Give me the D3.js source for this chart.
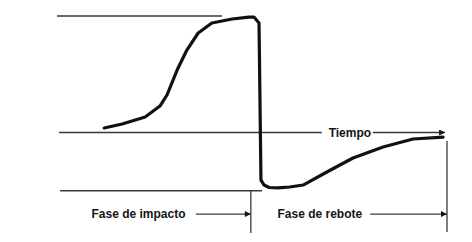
<!DOCTYPE html>
<html>
<head>
<meta charset="utf-8">
<script src="https://cdn.jsdelivr.net/npm/d3@7"></script>
<style>
  html, body { margin: 0; padding: 0; background: #fff; }
  svg { display: block; }
  text { font-family: "Liberation Sans", Arial, sans-serif; font-weight: bold; fill: #151515; }
</style>
</head>
<body>
<svg id="chart" width="472" height="242"></svg>
<script>
// Time (arbitrary units, 0–100) and force (% of peak)
const time = [12.1, 16.7, 22.6, 26.4, 28.2, 30.8, 33.3, 36.2, 39.7, 44.9, 49.2, 50.5, 51.8,
              52.3, 53.1, 54.4, 56.7, 59.7, 63.1, 69.2, 75.9, 83.6, 91.3, 99.0];
const force = [3.9, 7.3, 13.3, 22.7, 32.2, 53.6, 70.8, 85.4, 94.0, 97.4, 99.1, 99.1, 94.0,
               -40.8, -45.1, -47.2, -47.6, -46.8, -45.1, -33.9, -21.9, -12.4, -5.6, -3.9];
const axisLabel = "Tiempo";
const phaseLabels = ["Fase de impacto", "Fase de rebote"];
const phaseBounds = [49.7, 100];   // end time of each phase
const peakValue = 100, minValue = -50;

const svg = d3.select("#chart");
const x = d3.scaleLinear().domain([0, 100]).range([57, 447]);
const y = d3.scaleLinear().domain([-50, 100]).range([190.75, 16]);

const thin = "#3a3a3a";
const defs = svg.append("defs");
defs.append("marker").attr("id", "arr").attr("viewBox", "0 0 10 10")
  .attr("refX", 10).attr("refY", 5).attr("markerWidth", 7).attr("markerHeight", 6)
  .attr("markerUnits", "userSpaceOnUse").attr("orient", "auto")
  .append("path").attr("d", "M0,0L10,5L0,10Z").attr("fill", "#151515");

function hline(t0, t1, v, arrow) {
  const l = svg.append("line")
    .attr("x1", x(t0)).attr("x2", x(t1)).attr("y1", y(v)).attr("y2", y(v))
    .attr("stroke", thin).attr("stroke-width", 1.3);
  if (arrow) l.attr("marker-end", "url(#arr)");
}
function vline(t, v0, v1) {
  svg.append("line").attr("x1", x(t)).attr("x2", x(t)).attr("y1", y(v0)).attr("y2", y(v1))
    .attr("stroke", thin).attr("stroke-width", 1.3);
}

// reference lines
hline(0, 42.3, peakValue, false);
hline(0.5, 67.9, 0, false);
hline(0.8, 52.6, minValue, false);

// time axis label + arrow
svg.append("text").attr("x", x(75.1)).attr("y", y(0)).attr("dy", "0.36em")
  .attr("text-anchor", "middle").attr("font-size", 12).text(axisLabel);
hline(81, 99.5, 0, true);

// phase markers
vline(phaseBounds[0], minValue, -86.3);
vline(phaseBounds[1], -7.3, -85.4);
const labelY = -70;
svg.append("text").attr("x", x(20.9)).attr("y", y(labelY)).attr("dy", "0.36em")
  .attr("text-anchor", "middle").attr("font-size", 12).text(phaseLabels[0]);
hline(35.6, phaseBounds[0], labelY, true);
svg.append("text").attr("x", x(67.4)).attr("y", y(labelY)).attr("dy", "0.36em")
  .attr("text-anchor", "middle").attr("font-size", 12).text(phaseLabels[1]);
hline(80.3, phaseBounds[1], labelY, true);

// force curve
const pts = time.map((t, i) => [t, force[i]]);
const line = d3.line().x(d => x(d[0])).y(d => y(d[1])).curve(d3.curveLinear);
svg.append("path").attr("d", line(pts)).attr("fill", "none")
  .attr("stroke", "#111").attr("stroke-width", 3.2)
  .attr("stroke-linejoin", "round").attr("stroke-linecap", "round");
</script>
</body>
</html>
